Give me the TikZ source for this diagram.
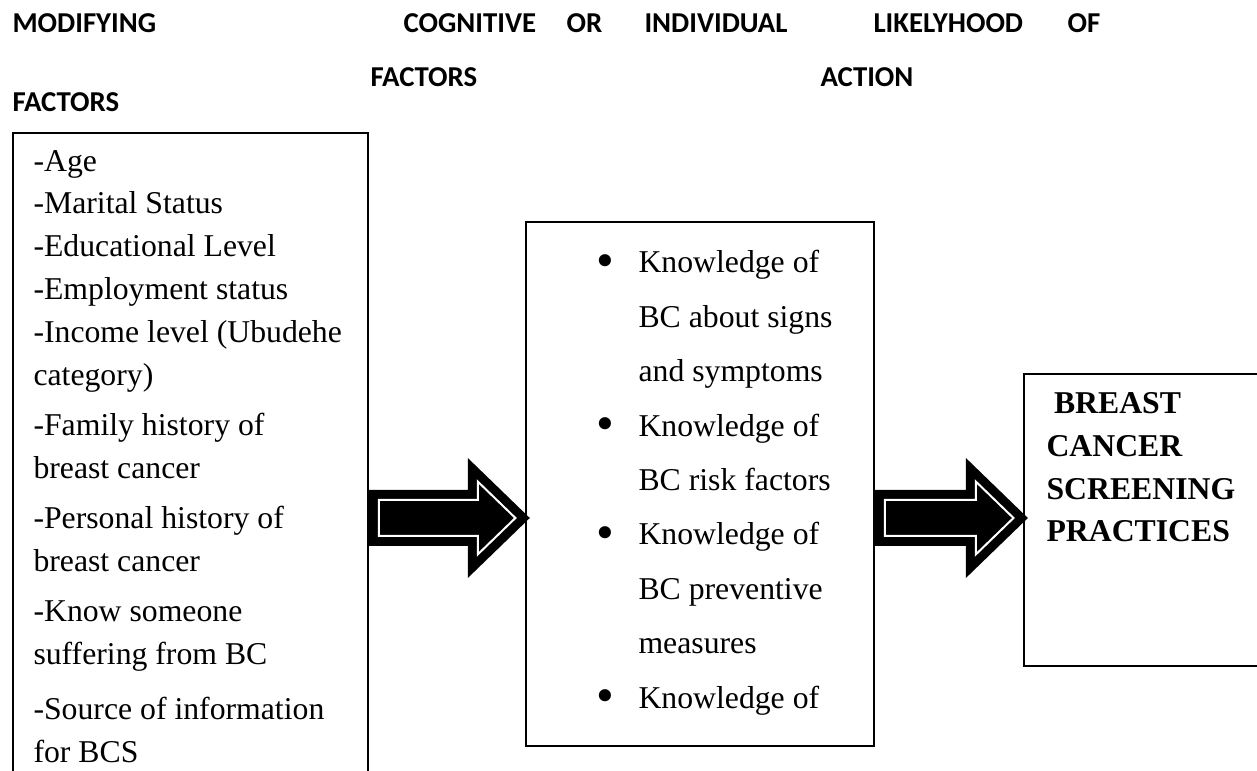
\documentclass[tikz,border=0pt]{standalone}
\usepackage{fontspec}
\setmainfont{Liberation Serif}
\newfontfamily\headfont{Carlito}
\usetikzlibrary{positioning, calc}
\tikzset{
  header/.style = {anchor = base west, inner sep = 0pt,
    font = \headfont\fontsize{10.8}{13}\selectfont\bfseries},
  frame/.style = {draw, line width = 0.7pt, anchor = north west, inner sep = 0pt},
  listing/.style = {anchor = base west, inner sep = 0pt, align = left,
    font = \fontsize{11.9}{16.1}\selectfont},
  blockarrow/.style = {fill = black, draw = black, line width = 3.375pt,
    double = white, double distance = 0.75pt}
}
\newcommand\bul{\makebox[15.75pt][l]{\raisebox{-0.3ex}{\scalebox{1.6}{\textbullet}}}}
\newcommand\ind{\hspace*{15.75pt}}

\begin{document}
\begin{tikzpicture}[x = 0.375pt, y = -0.375pt]
\useasboundingbox (0,0) rectangle (1257,771);
\clip (0,0) rectangle (1257,771);

%% Headers
\node [header] (hmod) at (12,33) {MODIFYING};
\node [header] (hcog) at (403,33) {COGNITIVE};
\node [header] (hor) at (566,33) {OR};
\node [header] (hind) at (644,33) {INDIVIDUAL};
\node [header] (hlik) at (873,33) {LIKELYHOOD};
\node [header] (hof) at (1067,33) {OF};
\node [header] (hfacb) at (370,87) {FACTORS};
\node [header] (hact) at (820,87) {ACTION};
\node [header] (hfaca) at (12,112) {FACTORS};

%% Boxes
\node [frame, minimum width = 133.1pt, minimum height = 300pt] (modbox) at (12,132) {};
\node [frame, minimum width = 130.5pt, minimum height = 196.5pt] (cogbox) at (525,221) {};
\node [frame, minimum width = 104pt, minimum height = 109.5pt] (actbox) at (1023,373) {};

%% Lists (base = last line)
\node [listing] (modlist) at (33,762) {-Age\\ -Marital Status\\ -Educational Level\\
  -Employment status\\ -Income level (Ubudehe\\ category)\\[2.6pt]
  -Family history of\\ breast cancer\\[2.6pt] -Personal history of\\ breast cancer\\[2.6pt]
  -Know someone\\ suffering from BC\\[4.5pt] -Source of information\\ for BCS};
\node [listing, font = \fontsize{11.9}{20.4}\selectfont] (coglist) at (596,708)
  {\bul Knowledge of\\ \ind BC about signs\\ \ind and symptoms\\
   \bul Knowledge of\\ \ind BC risk factors\\
   \bul Knowledge of\\ \ind BC preventive\\ \ind measures\\
   \bul Knowledge of};
\node [listing, font = \fontsize{11.9}{16.1}\selectfont\bfseries] (actlist) at (1046,542)
  {\hspace*{2.8pt}BREAST\\ CANCER\\ SCREENING\\ PRACTICES};

%% Arrows
\coordinate (a1) at (modbox.north east |- 0,518);
\coordinate (a2) at (cogbox.north east |- a1);
\filldraw [blockarrow, shift = {(a1)}] (10,-18) -- (109,-18) -- (109,-36.4) -- (146.6,0)
  -- (109,36.4) -- (109,18) -- (10,18) -- cycle;
\filldraw [blockarrow, shift = {(a2)}] (10,-18) -- (101,-18) -- (101,-36.4) -- (138.6,0)
  -- (101,36.4) -- (101,18) -- (10,18) -- cycle;

\end{tikzpicture}
\end{document}
